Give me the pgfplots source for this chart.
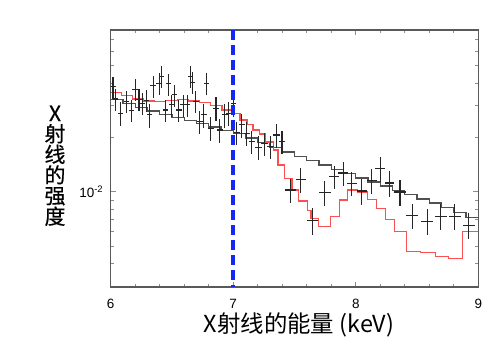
\documentclass[border=0pt]{standalone}
\usepackage{fontspec}
\setmainfont{Liberation Sans}
\newfontfamily\cjk{Noto Sans CJK SC}
\newfontfamily\cjkb{Noto Sans CJK SC}[FakeBold=0.6]
\usepackage{pgfplots}
\pgfplotsset{compat=1.18}
\definecolor{modred}{RGB}{250,80,80}
\definecolor{modgray}{RGB}{80,80,80}
\definecolor{dblue}{RGB}{20,40,245}
\begin{document}
\begin{tikzpicture}
\path[use as bounding box] (-110.7bp,-63bp) rectangle (384.3bp,287bp);
\begin{axis}[
 scale only axis, width=367.6bp, height=257bp,
 xmin=6, xmax=9, ymode=log, ymin=2.96e-3, ymax=7.9e-2,
 xtick={6,7,8,9}, xticklabels={6,7,8,9},
 minor xtick={6.2,6.4,6.6,6.8,7.2,7.4,7.6,7.8,8.2,8.4,8.6,8.8},
 ytick={0.01}, yticklabels={10\textsuperscript{-2}},
 minor ytick={0.003,0.004,0.005,0.006,0.007,0.008,0.009,0.02,0.03,0.04,0.05,0.06,0.07},
 /pgf/number format/assume math mode=true,
 axis line style={draw=black!65, line width=1.4bp},
 tick style={draw=black!45, line width=0.6bp},
 major tick length=5bp, minor tick length=3bp,
 tick label style={font=\fontsize{13.5}{15}\selectfont},
 xticklabel style={yshift=-9bp},
 yticklabel style={xshift=-4bp},
 xlabel={X射线的能量 (keV)},
 xlabel style={at={(axis description cs:0.512,-0.148)}, anchor=center, font=\cjk\fontsize{23.5}{25}\selectfont},
 ylabel={X\\射\\线\\的\\强\\度},
 ylabel style={at={(axis description cs:-0.1515,0.4716)}, anchor=center, rotate=-90, align=center, font=\cjkb\fontsize{21}{20.7}\selectfont},
]
\addplot[const plot, modgray, line width=1.3bp] table {
x y
6.0 0.03236
6.1 0.03086
6.2 0.02940
6.3 0.02807
6.4 0.02695
6.5 0.02587
6.6 0.02486
6.7 0.02387
6.8 0.02288
6.9 0.02193
7.0 0.02097
7.1 0.01986
7.2 0.01879
7.3 0.01767
7.4 0.01664
7.5 0.01575
7.6 0.01491
7.7 0.01409
7.8 0.01330
7.9 0.01257
8.0 0.01193
8.1 0.01132
8.2 0.01074
8.3 0.01017
8.4 0.009623
8.5 0.00912
8.6 0.008653
8.7 0.008212
8.8 0.007703
8.9 0.007205
9.0 0.007205
};
\addplot[const plot, modred, line width=1.1bp] table {
x y
6.000 0.03534
6.090 0.03402
6.180 0.03273
6.270 0.03190
6.360 0.03170
6.450 0.03211
6.548 0.03232
6.638 0.03190
6.728 0.03110
6.818 0.02993
6.908 0.02843
6.989 0.02720
7.055 0.02502
7.112 0.02348
7.161 0.02202
7.218 0.02092
7.267 0.01889
7.325 0.01705
7.365 0.01407
7.422 0.01191
7.480 0.01022
7.529 0.008879
7.603 0.007913
7.635 0.007141
7.693 0.006390
7.791 0.007263
7.864 0.008995
7.930 0.01022
8.011 0.009962
8.093 0.009051
8.167 0.008088
8.240 0.007005
8.314 0.006048
8.416 0.004642
8.527 0.004595
8.650 0.004365
8.755 0.004266
8.870 0.006026
9.000 0.006026
};
\addplot[draw=none, mark=none,
 error bars/.cd, x dir=both, x explicit, y dir=both, y explicit relative,
 error mark=none, error bar style={draw=black!85, line width=1.1bp}]
 table[x=x, y=y, x error=ex, y error=ey] {
x y ex ey
6.019 0.03817 0.022 0.14
6.041 0.03273 0.022 0.14
6.079 0.02727 0.022 0.15
6.128 0.03162 0.022 0.14
6.169 0.02818 0.022 0.14
6.199 0.03706 0.022 0.14
6.231 0.03261 0.022 0.14
6.256 0.03098 0.022 0.14
6.292 0.03203 0.022 0.14
6.319 0.02668 0.022 0.15
6.346 0.03866 0.022 0.14
6.395 0.04001 0.022 0.14
6.415 0.04353 0.022 0.14
6.447 0.02843 0.022 0.14
6.474 0.03966 0.022 0.14
6.496 0.03032 0.022 0.14
6.523 0.03445 0.022 0.14
6.556 0.02843 0.022 0.14
6.591 0.03032 0.022 0.14
6.624 0.03032 0.022 0.14
6.652 0.04353 0.022 0.14
6.668 0.04032 0.022 0.14
6.695 0.03162 0.022 0.14
6.728 0.02448 0.022 0.15
6.760 0.02668 0.022 0.15
6.783 0.04001 0.022 0.14
6.818 0.02250 0.022 0.15
6.859 0.02906 0.022 0.15
6.891 0.02202 0.022 0.15
6.932 0.02668 0.022 0.15
6.965 0.02727 0.022 0.15
7.000 0.03071 0.022 0.15
7.028 0.02127 0.025 0.15
7.069 0.02348 0.025 0.15
7.110 0.02111 0.025 0.15
7.150 0.01896 0.025 0.15
7.204 0.01765 0.028 0.15
7.255 0.01848 0.028 0.15
7.306 0.01778 0.028 0.15
7.355 0.02065 0.028 0.15
7.398 0.01896 0.028 0.15
7.469 0.01022 0.045 0.15
7.551 0.01172 0.040 0.16
7.644 0.006963 0.045 0.17
7.746 0.009924 0.050 0.16
7.823 0.01212 0.040 0.15
7.897 0.01270 0.040 0.15
7.968 0.01113 0.040 0.15
8.050 0.01009 0.040 0.16
8.132 0.01151 0.040 0.16
8.200 0.01340 0.040 0.16
8.276 0.01118 0.040 0.16
8.361 0.009962 0.045 0.16
8.461 0.007375 0.050 0.16
8.584 0.006875 0.050 0.16
8.694 0.007328 0.050 0.16
8.809 0.007328 0.050 0.16
8.922 0.006531 0.050 0.16
};
\addplot[dblue, line width=4bp, dash pattern=on 10bp off 5bp] coordinates {(7,7.9e-2) (7,2.96e-3)};
\end{axis}
\end{tikzpicture}
\end{document}
